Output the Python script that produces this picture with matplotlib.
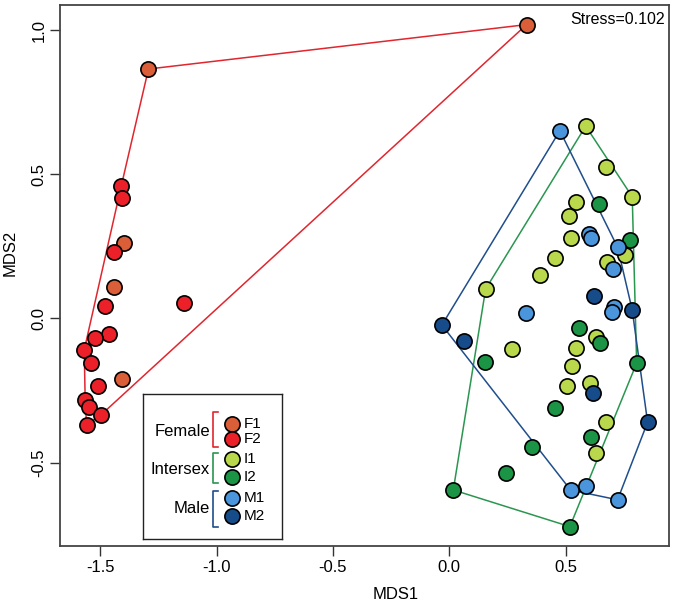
import numpy as np
import matplotlib
matplotlib.use("Agg")
import matplotlib.pyplot as plt

plt.rcParams['font.family'] = ['Liberation Sans', 'DejaVu Sans']
plt.rcParams['axes.unicode_minus'] = False

# MDS coordinates (MDS1, MDS2)
f1_x = [0.332, -1.293, -1.400, -1.439, -1.407]
f1_y = [1.019, 0.865, 0.261, 0.110, -0.210]
f2_x = [-1.410, -1.406, -1.440, -1.478, -1.141, -1.461, -1.521, -1.569, -1.540,
        -1.512, -1.565, -1.548, -1.499, -1.559]
f2_y = [0.459, 0.419, 0.230, 0.044, 0.053, -0.055, -0.067, -0.109, -0.154,
        -0.236, -0.283, -0.307, -0.336, -0.368]
i1_x = [0.586, 0.672, 0.786, 0.543, 0.514, 0.523, 0.755, 0.454, 0.676, 0.389,
        0.156, 0.270, 0.543, 0.630, 0.528, 0.507, 0.604, 0.672, 0.629]
i1_y = [0.667, 0.526, 0.422, 0.403, 0.356, 0.278, 0.220, 0.211, 0.195, 0.151,
        0.102, -0.106, -0.101, -0.063, -0.165, -0.236, -0.223, -0.360, -0.465]
i2_x = [0.643, 0.776, 0.557, 0.647, 0.153, 0.805, 0.454, 0.607, 0.355, 0.245, 0.017, 0.518]
i2_y = [0.396, 0.272, -0.032, -0.084, -0.152, -0.155, -0.311, -0.412, -0.445, -0.537, -0.595, -0.722]
m1_x = [0.475, 0.600, 0.607, 0.723, 0.704, 0.707, 0.700, 0.328, 0.521, 0.586, 0.723]
m1_y = [0.651, 0.293, 0.278, 0.247, 0.172, 0.041, 0.023, 0.018, -0.595, -0.580, -0.629]
m2_x = [0.621, 0.786, -0.032, 0.064, 0.617, 0.852]
m2_y = [0.079, 0.029, -0.023, -0.079, -0.259, -0.360]

groups = ["Female", "Intersex", "Male"]
group_cols = ["#E0262E", "#2A9650", "#1F4E8C"]
subgroups = [("F1", f1_x, f1_y, "#DA5E38"), ("F2", f2_x, f2_y, "#EC2029"),
             ("I1", i1_x, i1_y, "#B9D84B"), ("I2", i2_x, i2_y, "#1C9446"),
             ("M1", m1_x, m1_y, "#4B95DC"), ("M2", m2_x, m2_y, "#174C8A")]
stress = 0.102


def hull(xs, ys):
    pts = sorted(set(zip(xs, ys)))
    def cross(o, a, b):
        return (a[0] - o[0]) * (b[1] - o[1]) - (a[1] - o[1]) * (b[0] - o[0])
    lower, upper = [], []
    for p in pts:
        while len(lower) >= 2 and cross(lower[-2], lower[-1], p) <= 0:
            lower.pop()
        lower.append(p)
    for p in reversed(pts):
        while len(upper) >= 2 and cross(upper[-2], upper[-1], p) <= 0:
            upper.pop()
        upper.append(p)
    h = lower[:-1] + upper[:-1]
    h.append(h[0])
    return [p[0] for p in h], [p[1] for p in h]


fig = plt.figure(figsize=(6.75, 6.04), dpi=100)
ax = fig.add_axes([0.0893, 0.0952, 0.9025, 0.897])

for gi, col in enumerate(group_cols):
    a, b = subgroups[2 * gi], subgroups[2 * gi + 1]
    hx, hy = hull(a[1] + b[1], a[2] + b[2])
    ax.plot(hx, hy, color=col, lw=1.1, zorder=1)

for name, xs, ys, col in subgroups:
    ax.scatter(xs, ys, s=120, c=col, edgecolors="black", linewidths=1.2, zorder=3)

ax.set_xlim(-1.672, 0.946)
ax.set_ylim(-0.791, 1.088)
ax.set_xticks([-1.5, -1.0, -0.5, 0.0, 0.5])
ax.set_yticks([-0.5, 0.0, 0.5, 1.0])
ax.set_yticklabels(["-0.5", "0.0", "0.5", "1.0"], rotation=90, va="center")
ax.tick_params(direction="out", length=7.5, width=1.0, color="#333333",
               labelsize=12, pad=2.5)
for sp in ax.spines.values():
    sp.set_color("#444444")
    sp.set_linewidth(1.3)
ax.set_xlabel("MDS1", fontsize=12)
ax.set_ylabel("MDS2", fontsize=12)
ax.xaxis.set_label_coords(0.55, -0.075)
ax.yaxis.set_label_coords(-0.07, 0.542)

ax.text(0.993, 0.972, f"Stress={stress}", transform=ax.transAxes,
        ha="right", va="center", fontsize=11.5)

# legend with group brackets
lg = ax.inset_axes([0.1366, 0.0138, 0.2273, 0.2676])
lg.set_xlim(0, 1)
lg.set_ylim(0, 1)
lg.set_xticks([])
lg.set_yticks([])
for sp in lg.spines.values():
    sp.set_color("#222222")
    sp.set_linewidth(1.0)
lg.set_zorder(5)

group_y = [0.74, 0.48, 0.212]
brackets = [(0.878, 0.635), (0.590, 0.385), (0.330, 0.085)]
marker_y = [0.79, 0.69, 0.55, 0.43, 0.285, 0.16]
for gi, g in enumerate(groups):
    lg.text(0.48, group_y[gi], g, ha="right", va="center", fontsize=12)
    top, bot = brackets[gi]
    lg.plot([0.535, 0.5, 0.5, 0.535], [top, top, bot, bot],
            color=group_cols[gi], lw=1.2)
for (name, xs, ys, col), my in zip(subgroups, marker_y):
    lg.scatter([0.637], [my], s=120, c=col, edgecolors="black", linewidths=1.2,
               clip_on=False)
    lg.text(0.725, my, name, ha="left", va="center", fontsize=11)

fig.savefig("out.png", dpi=100)
